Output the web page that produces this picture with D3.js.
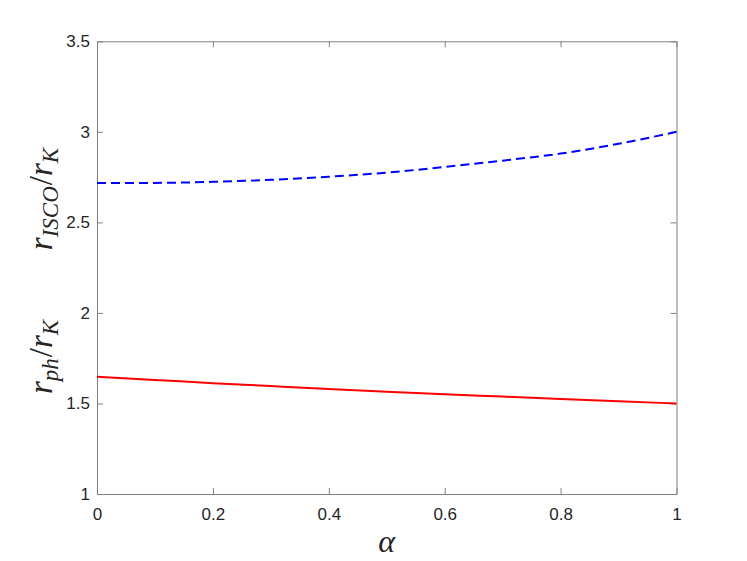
<!DOCTYPE html>
<html>
<head>
<meta charset="utf-8">
<script src="https://cdn.jsdelivr.net/npm/d3@7"></script>
<style>
  body { margin: 0; background: #fff; }
  .tick text { font-family: "Liberation Sans", Arial, sans-serif; font-size: 17px; fill: #262626; }
  .tick line, .domain { stroke: #808080; }
</style>
</head>
<body>
<svg width="747" height="561"></svg>
<script>
var svg = d3.select("svg"),
    width = +svg.attr("width"),
    height = +svg.attr("height");

// values
var alpha = [0, 0.1, 0.2, 0.3, 0.4, 0.5, 0.6, 0.7, 0.8, 0.9, 1.0];
var rIsco = [2.717, 2.718, 2.724, 2.735, 2.752, 2.775, 2.806, 2.841, 2.880, 2.934, 3.000];
var rPh   = [1.647, 1.630, 1.612, 1.596, 1.580, 1.565, 1.551, 1.538, 1.525, 1.512, 1.500];
var xTicks = [0, 0.2, 0.4, 0.6, 0.8, 1];
var yTicks = [1, 1.5, 2, 2.5, 3, 3.5];

var plotLeft = 97, plotRight = 676.5, plotTop = 41.3, plotBottom = 494;
var serif = "'Liberation Serif', 'DejaVu Serif', serif";

svg.append("rect").attr("width", width).attr("height", height).attr("fill", "#fff");

var x = d3.scaleLinear().domain([0, 1]).range([plotLeft, plotRight]);
var y = d3.scaleLinear().domain([1, 3.5]).range([plotBottom, plotTop]);

// box with inward ticks on all sides
svg.append("g")
    .attr("transform", "translate(0," + plotBottom + ")")
    .call(d3.axisBottom(x).tickValues(xTicks).tickFormat(d3.format("")).tickSizeInner(-6).tickSizeOuter(0).tickPadding(14));
svg.append("g")
    .attr("transform", "translate(0," + plotTop + ")")
    .call(d3.axisTop(x).tickValues(xTicks).tickFormat("").tickSizeInner(-6).tickSizeOuter(0));
svg.append("g")
    .attr("transform", "translate(" + plotLeft + ",0)")
    .call(d3.axisLeft(y).tickValues(yTicks).tickFormat(d3.format("")).tickSizeInner(-6).tickSizeOuter(0).tickPadding(7));
svg.append("g")
    .attr("transform", "translate(" + plotRight + ",0)")
    .call(d3.axisRight(y).tickValues(yTicks).tickFormat("").tickSizeInner(-6).tickSizeOuter(0));

var line = d3.line().curve(d3.curveMonotoneX);

svg.append("path")
    .attr("d", line(alpha.map(function(a, i) { return [x(a), y(rIsco[i])]; })))
    .attr("fill", "none")
    .attr("stroke", "#0000ff")
    .attr("stroke-width", 2)
    .attr("stroke-dasharray", "9,5");

svg.append("path")
    .attr("d", line(alpha.map(function(a, i) { return [x(a), y(rPh[i])]; })))
    .attr("fill", "none")
    .attr("stroke", "#ff0000")
    .attr("stroke-width", 2);

// axis labels
function mathLabel(cx, cy, sub1) {
    var t = svg.append("text")
        .attr("transform", "translate(" + cx + "," + cy + ") rotate(-90)")
        .attr("text-anchor", "middle")
        .attr("font-family", serif)
        .attr("font-style", "italic")
        .attr("font-size", 33)
        .attr("fill", "#262626");
    t.append("tspan").text("r");
    t.append("tspan").attr("font-size", 23).attr("dy", 6).text(sub1);
    t.append("tspan").attr("font-style", "normal").attr("dy", -6).attr("dx", 1).text("/");
    t.append("tspan").text("r");
    t.append("tspan").attr("font-size", 23).attr("dy", 6).text("K");
}
mathLabel(52, 199, "ISCO");
mathLabel(52, 357, "ph");

svg.append("text")
    .attr("x", (plotLeft + plotRight) / 2)
    .attr("y", 552)
    .attr("text-anchor", "middle")
    .attr("font-family", serif)
    .attr("font-style", "italic")
    .attr("font-size", 32)
    .attr("fill", "#262626")
    .text("α");
</script>
</body>
</html>
